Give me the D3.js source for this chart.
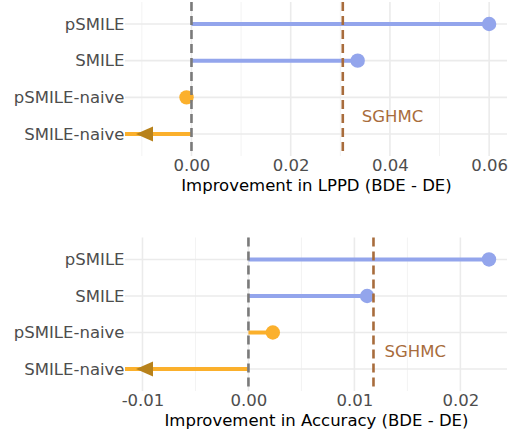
<!DOCTYPE html>
<html>
<head>
<meta charset="utf-8">
<script src="https://cdn.jsdelivr.net/npm/d3@7"></script>
<style>
  body { margin: 0; background: #fff; }
  svg { display: block; font-family: "DejaVu Sans", sans-serif; }
</style>
</head>
<body>
<div id="chart"></div>
<script>
// values
var categories = ["pSMILE", "SMILE", "pSMILE-naive", "SMILE-naive"];
var groups = ["smile", "smile", "naive", "naive"];

var lppdValues = [0.0600, 0.0335, -0.0010, -0.0250];   // last one is off the chart
var lppdSghmc = 0.0305;
var lppdTicks = [0, 0.02, 0.04, 0.06];
var lppdTickLabels = ["0.00", "0.02", "0.04", "0.06"];
var lppdDomain = [-0.0134, 0.0636];

var accValues = [0.0227, 0.0112, 0.0023, -0.0150];    // last one is off the chart
var accSghmc = 0.0118;
var accTicks = [-0.01, 0, 0.01, 0.02];
var accTickLabels = ["-0.01", "0.00", "0.01", "0.02"];
var accDomain = [-0.01165, 0.0244];

var colors = {smile: "#93A5EC", naive: "#FBB02C"};
var arrowColor = "#B8821B";
var sghmcColor = "#A86C3C";
var fontSize = "16.5px";

function start(){
    var svg = d3.select("#chart").append("svg")
                .attr("width", 513)
                .attr("height", 434);

    drawPanel(svg, {
        values: lppdValues, sghmc: lppdSghmc, ticks: lppdTicks, tickLabels: lppdTickLabels,
        domain: lppdDomain, top: 2, bottom: 156, labelDx: 19, labelY: 121.5,
        title: "Improvement in LPPD (BDE - DE)"
    });
    drawPanel(svg, {
        values: accValues, sghmc: accSghmc, ticks: accTicks, tickLabels: accTickLabels,
        domain: accDomain, top: 237.5, bottom: 391, labelDx: 11, labelY: 357,
        title: "Improvement in Accuracy (BDE - DE)"
    });
}

function drawPanel(svg, p){
    var left = 125, right = 507;

    var xScale = d3.scaleLinear().domain(p.domain).range([left, right]).clamp(true);
    var yScale = d3.scalePoint().domain(categories).range([p.top, p.bottom]).padding(0.6);

    // minor grid halfway between major ticks
    var step = p.ticks[1] - p.ticks[0];
    var minor = [];
    for (var v = p.ticks[0] - step / 2; v <= p.domain[1]; v += step) {
        if (v >= p.domain[0]) minor.push(v);
    }
    var g = svg.append("g");

    g.selectAll(".minor").data(minor).enter().append("line")
     .attr("x1", d => xScale(d)).attr("x2", d => xScale(d))
     .attr("y1", p.top).attr("y2", p.bottom)
     .attr("stroke", "#F3F3F3").attr("stroke-width", 1);

    g.selectAll(".major").data(p.ticks).enter().append("line")
     .attr("x1", d => xScale(d)).attr("x2", d => xScale(d))
     .attr("y1", p.top).attr("y2", p.bottom)
     .attr("stroke", "#EBEBEB").attr("stroke-width", 1.6);

    g.selectAll(".hgrid").data(categories).enter().append("line")
     .attr("x1", left).attr("x2", right)
     .attr("y1", d => yScale(d)).attr("y2", d => yScale(d))
     .attr("stroke", "#EBEBEB").attr("stroke-width", 1.6);

    // x axis (no line, no ticks)
    var xAxis = g.append("g")
                 .attr("transform", "translate(0," + p.bottom + ")")
                 .call(d3.axisBottom(xScale).tickValues(p.ticks)
                         .tickFormat((d, i) => p.tickLabels[i]).tickSize(0).tickPadding(4));
    xAxis.select(".domain").remove();
    xAxis.selectAll("text")
         .attr("dy", null).attr("y", 15)
         .style("font-size", fontSize).style("font-family", "DejaVu Sans")
         .attr("fill", "#4D4D4D");

    // y axis
    var yAxis = g.append("g")
                 .attr("transform", "translate(" + (left - 0.5) + ",0)")
                 .call(d3.axisLeft(yScale).tickSize(0).tickPadding(0));
    yAxis.select(".domain").remove();
    yAxis.selectAll("text")
         .style("font-size", fontSize).style("font-family", "DejaVu Sans")
         .attr("fill", "#4D4D4D");

    var rows = categories.map(function(c, i){
        return {cat: c, value: p.values[i], group: groups[i]};
    });

    // segments from zero
    g.selectAll(".seg").data(rows).enter().append("line")
     .attr("x1", xScale(0)).attr("x2", d => xScale(d.value))
     .attr("y1", d => yScale(d.cat)).attr("y2", d => yScale(d.cat))
     .attr("stroke", d => colors[d.group])
     .attr("stroke-width", 4);

    // points inside the range
    g.selectAll(".pt").data(rows.filter(d => d.value >= p.domain[0])).enter().append("circle")
     .attr("cx", d => xScale(d.value)).attr("cy", d => yScale(d.cat))
     .attr("r", 7.2)
     .attr("fill", d => colors[d.group]);

    // arrows for values off the left edge
    g.selectAll(".arrow").data(rows.filter(d => d.value < p.domain[0])).enter().append("path")
     .attr("d", function(d){
         var x = xScale(d.value) + 11, y = yScale(d.cat);
         return "M" + x + "," + y + "L" + (x + 17) + "," + (y - 7.5) + "L" + (x + 17) + "," + (y + 7.5) + "Z";
     })
     .attr("fill", arrowColor);

    // dashed reference lines
    g.append("line")
     .attr("x1", xScale(0)).attr("x2", xScale(0))
     .attr("y1", p.top).attr("y2", p.bottom)
     .attr("stroke", "#7A7A7A").attr("stroke-width", 2.6)
     .attr("stroke-dasharray", "9,5");

    g.append("line")
     .attr("x1", xScale(p.sghmc)).attr("x2", xScale(p.sghmc))
     .attr("y1", p.top).attr("y2", p.bottom)
     .attr("stroke", sghmcColor).attr("stroke-width", 2.6)
     .attr("stroke-dasharray", "9,5");

    g.append("text")
     .attr("x", xScale(p.sghmc) + p.labelDx)
     .attr("y", p.labelY)
     .attr("fill", sghmcColor)
     .style("font-size", fontSize)
     .text("SGHMC");

    g.append("text")
     .attr("x", (left + right) / 2 + 0.5)
     .attr("y", p.bottom + 34.5)
     .attr("text-anchor", "middle")
     .attr("fill", "#000")
     .style("font-size", fontSize)
     .text(p.title);
}

start();
</script>
</body>
</html>
